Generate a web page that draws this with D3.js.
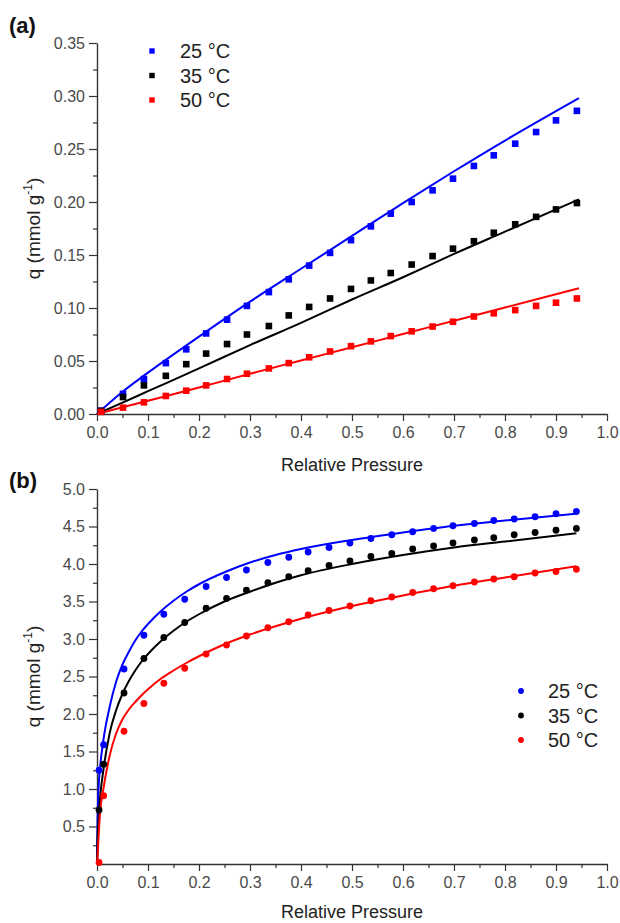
<!DOCTYPE html>
<html>
<head>
<meta charset="utf-8">
<script src="https://cdn.jsdelivr.net/npm/d3@7"></script>
<style>
  body { margin: 0; background: #fff; }
  text { font-family: "Liberation Sans", Arial, sans-serif; }
</style>
</head>
<body>
<div id="chart"></div>
<script>
// ---- data ----
const seriesNames = ["25 °C", "35 °C", "50 °C"];
const seriesColors = ["#0000ff", "#000000", "#ff0000"];

// (a) measured points
const pA = [0.008, 0.051, 0.092, 0.135, 0.175, 0.214, 0.255, 0.294, 0.337, 0.376, 0.416, 0.457,
            0.498, 0.537, 0.576, 0.617, 0.658, 0.698, 0.739, 0.778, 0.82, 0.861, 0.9, 0.941];
const qA25 = [0.003, 0.019, 0.033, 0.048, 0.061, 0.076, 0.089, 0.102, 0.115, 0.127, 0.140, 0.152,
              0.164, 0.177, 0.189, 0.200, 0.211, 0.222, 0.234, 0.244, 0.255, 0.266, 0.277, 0.286];
const qA35 = [0.003, 0.016, 0.027, 0.036, 0.047, 0.057, 0.066, 0.075, 0.083, 0.093, 0.101, 0.109,
              0.118, 0.126, 0.133, 0.141, 0.149, 0.156, 0.163, 0.171, 0.179, 0.186, 0.193, 0.199];
const qA50 = [0.002, 0.006, 0.011, 0.017, 0.022, 0.027, 0.033, 0.038, 0.043, 0.048, 0.0535, 0.059,
              0.064, 0.0685, 0.0735, 0.078, 0.0825, 0.087, 0.092, 0.095, 0.098, 0.102, 0.105, 0.109];

// (a) fitted curves
const fitPA = [0, 0.05, 0.1, 0.2, 0.3, 0.4, 0.5, 0.6, 0.7, 0.8, 0.945];
const fitA25 = [0, 0.021, 0.039, 0.073, 0.106, 0.137, 0.168, 0.199, 0.229, 0.258, 0.298];
const fitA35 = [0, 0.0107, 0.0215, 0.043, 0.065, 0.086, 0.108, 0.129, 0.151, 0.172, 0.2025];
const fitA50 = [0, 0.0063, 0.0125, 0.025, 0.038, 0.0505, 0.063, 0.0755, 0.088, 0.1005, 0.1186];

// (b) measured points
const pB = [0.004, 0.013, 0.053, 0.092, 0.131, 0.172, 0.214, 0.254, 0.293, 0.335, 0.376, 0.414, 0.455,
            0.496, 0.537, 0.578, 0.619, 0.66, 0.698, 0.74, 0.778, 0.818, 0.859, 0.9, 0.94];
const qB25 = [1.25, 1.59, 2.60, 3.05, 3.33, 3.53, 3.70, 3.82, 3.92, 4.02, 4.09, 4.16, 4.22,
              4.28, 4.34, 4.39, 4.43, 4.475, 4.51, 4.54, 4.58, 4.60, 4.63, 4.67, 4.70];
const qB35 = [0.72, 1.33, 2.28, 2.74, 3.02, 3.22, 3.41, 3.54, 3.65, 3.75, 3.83, 3.91, 3.98,
              4.04, 4.10, 4.14, 4.20, 4.24, 4.28, 4.32, 4.35, 4.39, 4.42, 4.45, 4.475];
const qB50 = [0.02, 0.91, 1.77, 2.14, 2.41, 2.61, 2.80, 2.92, 3.04, 3.15, 3.23, 3.32, 3.38,
              3.44, 3.51, 3.56, 3.62, 3.67, 3.71, 3.76, 3.80, 3.83, 3.88, 3.90, 3.93];

// (b) fitted curves
const fitPB = [0, 0.001, 0.003, 0.00625, 0.0125, 0.025, 0.0375, 0.05, 0.0625, 0.075, 0.0875, 0.1,
               0.125, 0.15, 0.175, 0.2, 0.25, 0.3, 0.35, 0.4, 0.5, 0.6, 0.7, 0.8, 0.94];
const fitB25 = [0, 0.55, 1.0, 1.3, 1.65, 2.1, 2.43, 2.66, 2.83, 2.98, 3.10, 3.20,
                3.37, 3.51, 3.63, 3.73, 3.89, 4.02, 4.12, 4.20, 4.32, 4.42, 4.51, 4.58, 4.67];
const fitB35 = [0, 0.3, 0.6, 0.9, 1.25, 1.75, 2.05, 2.27, 2.44, 2.58, 2.70, 2.80,
                2.97, 3.11, 3.23, 3.33, 3.50, 3.63, 3.75, 3.85, 4.00, 4.12, 4.22, 4.30, 4.41];
const fitB50 = [0, 0.08, 0.35, 0.7, 1.0, 1.45, 1.74, 1.93, 2.06, 2.16, 2.25, 2.33,
                2.47, 2.58, 2.68, 2.77, 2.93, 3.06, 3.17, 3.27, 3.44, 3.58, 3.71, 3.82, 3.97];

// tick labels
const xTicks = [0, 0.1, 0.2, 0.3, 0.4, 0.5, 0.6, 0.7, 0.8, 0.9, 1.0];
const yTicksA = [0, 0.05, 0.10, 0.15, 0.20, 0.25, 0.30, 0.35];
const yTicksB = [0.5, 1.0, 1.5, 2.0, 2.5, 3.0, 3.5, 4.0, 4.5, 5.0];

const svg = d3.select("#chart").append("svg")
  .attr("width", 620)
  .attr("height", 923);

function drawPanel(cfg) {
  const x = d3.scaleLinear().domain([0, 1]).range([97, 607]);
  const y = d3.scaleLinear().domain(cfg.yDomain).range([cfg.yBot, cfg.yTop]);
  const g = svg.append("g");

  // minor ticks
  g.append("g")
    .attr("transform", `translate(0,${cfg.yBot})`)
    .call(d3.axisBottom(x).tickValues(d3.range(0.05, 1, 0.1)).tickSize(4).tickFormat(""))
    .call(a => a.select(".domain").remove());
  g.append("g")
    .attr("transform", "translate(97,0)")
    .call(d3.axisLeft(y).tickValues(cfg.yMinor).tickSize(4).tickFormat(""))
    .call(a => a.select(".domain").remove());

  // major axes
  const xa = g.append("g")
    .attr("transform", `translate(0,${cfg.yBot})`)
    .call(d3.axisBottom(x).tickValues(xTicks).tickSize(7).tickSizeOuter(0).tickPadding(6).tickFormat(d3.format(".1f")));
  const ya = g.append("g")
    .attr("transform", "translate(97,0)")
    .call(d3.axisLeft(y).tickValues(cfg.yTicks).tickSize(8).tickSizeOuter(0).tickPadding(4).tickFormat(d3.format(cfg.yFmt)));
  [xa, ya].forEach(a => {
    a.selectAll("text").attr("font-size", 16).attr("fill", "#4a4a4a")
      .attr("font-family", '"Liberation Sans", Arial, sans-serif');
  });
  g.selectAll(".domain").attr("stroke", "#333").attr("stroke-width", 1.4);
  g.selectAll(".tick line").attr("stroke", "#333").attr("stroke-width", 1.2);

  // fitted lines
  const line = d3.line().x(d => x(d[0])).y(d => y(d[1])).curve(d3.curveMonotoneX);
  cfg.fits.forEach((f, i) => {
    g.append("path")
      .datum(cfg.fitP.map((p, j) => [p, f[j]]))
      .attr("fill", "none")
      .attr("stroke", seriesColors[i])
      .attr("stroke-width", 2)
      .attr("d", line);
  });

  // points
  cfg.qs.forEach((q, i) => {
    const pts = cfg.p.map((p, j) => [p, q[j]]);
    if (cfg.square) {
      g.append("g").selectAll("rect").data(pts).join("rect")
        .attr("x", d => x(d[0]) - 3.3).attr("y", d => y(d[1]) - 3.3)
        .attr("width", 6.6).attr("height", 6.6)
        .attr("fill", seriesColors[i]);
    } else {
      g.append("g").selectAll("circle").data(pts).join("circle")
        .attr("cx", d => x(d[0])).attr("cy", d => y(d[1]))
        .attr("r", 3.4)
        .attr("fill", seriesColors[i]);
    }
  });

  // axis titles
  g.append("text")
    .attr("x", 352).attr("y", cfg.xLabelY)
    .attr("text-anchor", "middle")
    .attr("font-size", 18).attr("fill", "#222")
    .text("Relative Pressure");

  const yl = g.append("text")
    .attr("transform", `translate(40,${(cfg.yTop + cfg.yBot) / 2}) rotate(-90)`)
    .attr("text-anchor", "middle")
    .attr("font-size", 19).attr("fill", "#222");
  yl.append("tspan").text("q (mmol g");
  yl.append("tspan").attr("font-size", 12).attr("dy", -8).text("-1");
  yl.append("tspan").attr("dy", 8).text(")");

  // panel letter
  g.append("text")
    .attr("x", 9).attr("y", cfg.letterY)
    .attr("font-size", 22).attr("font-weight", "bold").attr("fill", "#111")
    .text(cfg.letter);

  // legend
  const lg = g.append("g").selectAll("g").data(seriesNames).join("g")
    .attr("transform", (d, i) => `translate(${cfg.legX},${cfg.legY + i * 24.5})`);
  if (cfg.square) {
    lg.append("rect").attr("x", -2.7).attr("y", -2.7).attr("width", 5.4).attr("height", 5.4)
      .attr("fill", (d, i) => seriesColors[i]);
  } else {
    lg.append("circle").attr("r", 2.9).attr("fill", (d, i) => seriesColors[i]);
  }
  lg.append("text")
    .attr("x", cfg.legTextDx).attr("y", 7)
    .attr("font-size", 20).attr("fill", "#222")
    .text(d => d);
}

drawPanel({
  yDomain: [0, 0.35], yTop: 43, yBot: 414,
  yTicks: yTicksA, yMinor: d3.range(0.025, 0.35, 0.05), yFmt: ".2f",
  p: pA, qs: [qA25, qA35, qA50],
  fitP: fitPA, fits: [fitA25, fitA35, fitA50],
  square: true, xLabelY: 471, letter: "(a)", letterY: 33,
  legX: 152, legY: 51, legTextDx: 28
});

drawPanel({
  yDomain: [0, 5], yTop: 489, yBot: 864,
  yTicks: yTicksB, yMinor: d3.range(0.25, 5, 0.5), yFmt: ".1f",
  p: pB, qs: [qB25, qB35, qB50],
  fitP: fitPB, fits: [fitB25, fitB35, fitB50],
  square: false, xLabelY: 918, letter: "(b)", letterY: 488,
  legX: 521, legY: 691, legTextDx: 27
});
</script>
</body>
</html>
